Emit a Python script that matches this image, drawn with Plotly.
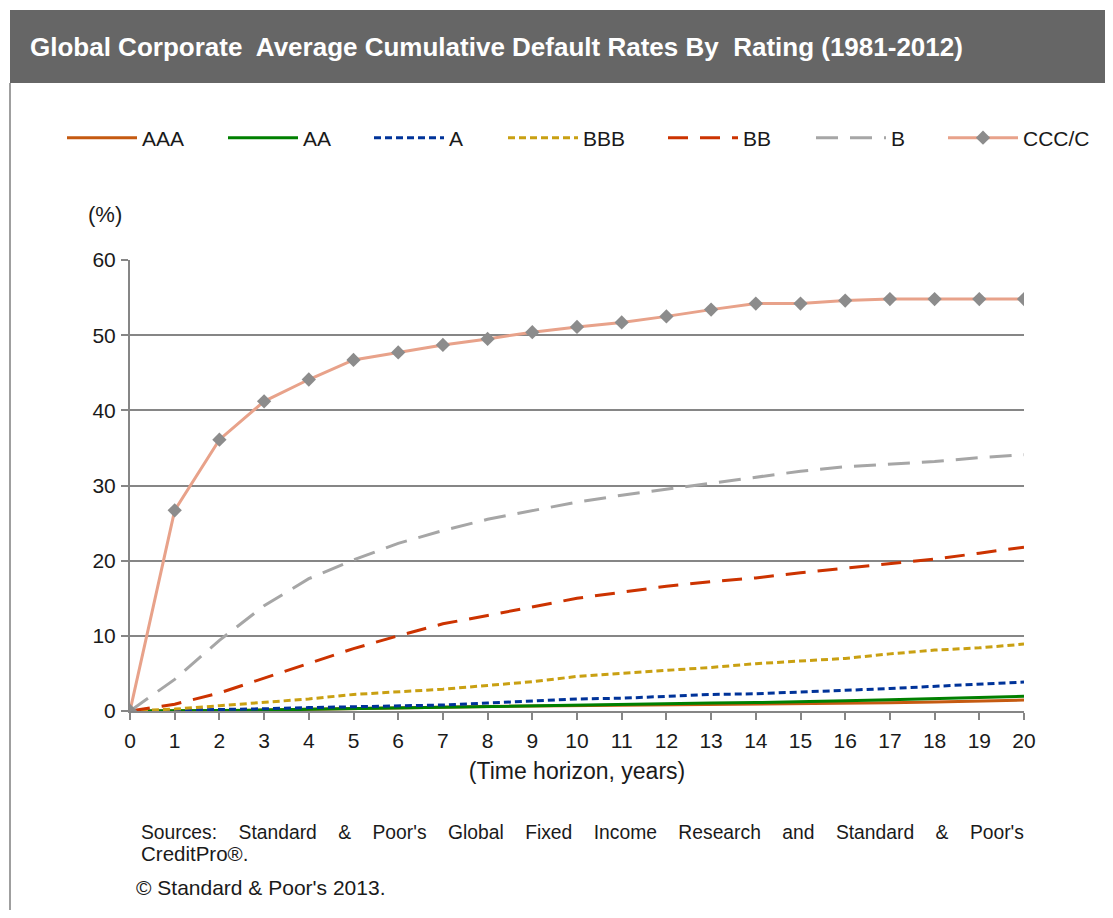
import plotly.graph_objects as go

years = list(range(0, 21))
x_tick_labels = [str(v) for v in years]
series_names = ["AAA", "AA", "A", "BBB", "BB", "B", "CCC/C"]

aaa = [0, 0.0, 0.03, 0.13, 0.24, 0.35, 0.45, 0.51, 0.59, 0.65, 0.70, 0.75, 0.79, 0.85, 0.90, 0.95, 1.02, 1.10, 1.20, 1.30, 1.45]
aa = [0, 0.02, 0.06, 0.12, 0.22, 0.32, 0.43, 0.55, 0.65, 0.75, 0.85, 0.93, 1.0, 1.07, 1.12, 1.2, 1.35, 1.5, 1.65, 1.8, 1.95]
a = [0, 0.07, 0.18, 0.3, 0.45, 0.58, 0.65, 0.8, 1.05, 1.3, 1.6, 1.7, 1.95, 2.2, 2.3, 2.5, 2.75, 3.0, 3.3, 3.55, 3.85]
bbb = [0, 0.25, 0.7, 1.1, 1.6, 2.2, 2.6, 2.9, 3.4, 3.9, 4.6, 5.0, 5.4, 5.8, 6.3, 6.7, 7.0, 7.6, 8.1, 8.4, 8.9]
bb = [0, 0.9, 2.4, 4.4, 6.3, 8.3, 10.0, 11.6, 12.7, 13.9, 15.0, 15.8, 16.6, 17.2, 17.7, 18.4, 19.0, 19.6, 20.2, 21.0, 21.8]
b = [0, 4.2, 9.4, 14.0, 17.6, 20.1, 22.3, 24.0, 25.5, 26.6, 27.8, 28.7, 29.5, 30.3, 31.1, 31.9, 32.5, 32.8, 33.2, 33.7, 34.1]
ccc = [0, 26.7, 36.1, 41.2, 44.1, 46.7, 47.7, 48.7, 49.5, 50.4, 51.1, 51.7, 52.5, 53.4, 54.2, 54.2, 54.6, 54.8, 54.8, 54.8, 54.8]
y_ticks = [0, 10, 20, 30, 40, 50, 60]

FONT = "Liberation Sans, Arial, sans-serif"
GRID = "#868686"
TXT = "#1a1a1a"

styles = [
    dict(color="#C55A11", dash="solid"),
    dict(color="#008000", dash="solid"),
    dict(color="#003399", dash="7px,4px"),
    dict(color="#C9A012", dash="7px,4px"),
    dict(color="#CC3300", dash="20px,12px"),
    dict(color="#A6A6A6", dash="22px,12px"),
    dict(color="#E8A28A", dash="solid"),
]
values = [aaa, aa, a, bbb, bb, b, ccc]
# left edge (reference pixels) of each legend entry, one legend box per series
legend_left = [62, 223, 369, 503, 663, 811, 943]

# page body has an 8px margin: work in reference pixels, shift by the offset
OX, OY = 8, 8
W, H = 1113 - OX, 918 - 2 * OY
L, R, T, B = 130 - OX, 1024 - OX, 260 - OY, 711 - OY
pw, ph = R - L, B - T

def px(xp):
    return (xp - OX - L) / pw

def py(yp):
    return (B - (yp - OY)) / ph

fig = go.Figure()
legend_layouts = {}
for i, (name, vals, st) in enumerate(zip(series_names, values, styles)):
    is_ccc = name == "CCC/C"
    lg = "legend" if i == 0 else f"legend{i + 1}"
    fig.add_trace(go.Scatter(
        x=years, y=vals, name=name, legend=lg,
        mode="lines+markers" if is_ccc else "lines",
        line=dict(color=st["color"], width=3, dash=st["dash"]),
        marker=dict(symbol="diamond", size=11, color="#8C8C8C") if is_ccc else None,
    ))
    legend_layouts[lg] = dict(
        orientation="h", xref="container", yref="container",
        x=(legend_left[i] - OX) / W, y=1 - (138 - OY) / H, xanchor="left", yanchor="middle",
        font=dict(family=FONT, size=21, color=TXT),
        itemwidth=70, bgcolor="rgba(0,0,0,0)", borderwidth=0,
    )

fig.update_layout(
    width=W, height=H,
    margin=dict(l=L, r=W - R, t=T, b=H - B, pad=0, autoexpand=False),
    paper_bgcolor="white", plot_bgcolor="white",
    font=dict(family=FONT, size=20, color=TXT),
    showlegend=True,
    xaxis=dict(
        range=[0, 20], tickmode="array", tickvals=years, ticktext=x_tick_labels,
        showgrid=False, zeroline=False, showline=True, linecolor=GRID, linewidth=2,
        ticks="outside", ticklen=7, tickcolor=GRID, tickwidth=2, ticklabelstandoff=3,
        tickfont=dict(size=21, family=FONT, color=TXT),
        title=dict(text="(Time horizon, years)", font=dict(size=23, family=FONT, color=TXT), standoff=12),
        fixedrange=True,
    ),
    yaxis=dict(
        range=[0, 60], tickmode="array", tickvals=y_ticks,
        showgrid=True, gridcolor=GRID, gridwidth=1.5, zeroline=False,
        showline=True, linecolor=GRID, linewidth=2,
        ticks="outside", ticklen=7, tickcolor=GRID, tickwidth=1.5, ticklabelstandoff=1,
        tickfont=dict(size=21, family=FONT, color=TXT),
        fixedrange=True,
    ),
    shapes=[
        dict(type="rect", xref="paper", yref="paper",
             x0=px(10), x1=px(1113), y0=py(83), y1=py(10),
             fillcolor="#666666", line=dict(width=0), layer="below"),
        dict(type="line", xref="paper", yref="paper",
             x0=px(10), x1=px(10), y0=py(83), y1=py(918),
             line=dict(color="#7F7F7F", width=1.5)),
    ],
    annotations=[
        dict(text="<b>Global Corporate  Average Cumulative Default Rates By  Rating (1981-2012)</b>",
             xref="paper", yref="paper", x=px(28), y=py(47), xanchor="left", yanchor="middle",
             showarrow=False, font=dict(family=FONT, size=26, color="white")),
        dict(text="(%)", xref="paper", yref="paper", x=px(86), y=py(215), xanchor="left", yanchor="middle",
             showarrow=False, font=dict(family=FONT, size=22, color=TXT)),
        dict(text="\u00a0\u00a0\u00a0\u00a0".join(["Sources:", "Standard", "&", "Poor's", "Global", "Fixed", "Income",
                                                  "Research", "and", "Standard", "&", "Poor's"]),
             xref="paper", yref="paper", x=px(139), y=py(832), xanchor="left", yanchor="middle",
             showarrow=False, font=dict(family=FONT, size=19.3, color=TXT)),
        dict(text="CreditPro®.", xref="paper", yref="paper", x=px(139), y=py(853), xanchor="left", yanchor="middle",
             showarrow=False, font=dict(family=FONT, size=20.5, color=TXT)),
        dict(text="© Standard & Poor's 2013.", xref="paper", yref="paper", x=px(134), y=py(887), xanchor="left", yanchor="middle",
             showarrow=False, font=dict(family=FONT, size=21, color=TXT)),
    ],
    **legend_layouts,
)

fig.write_html("out.html")
